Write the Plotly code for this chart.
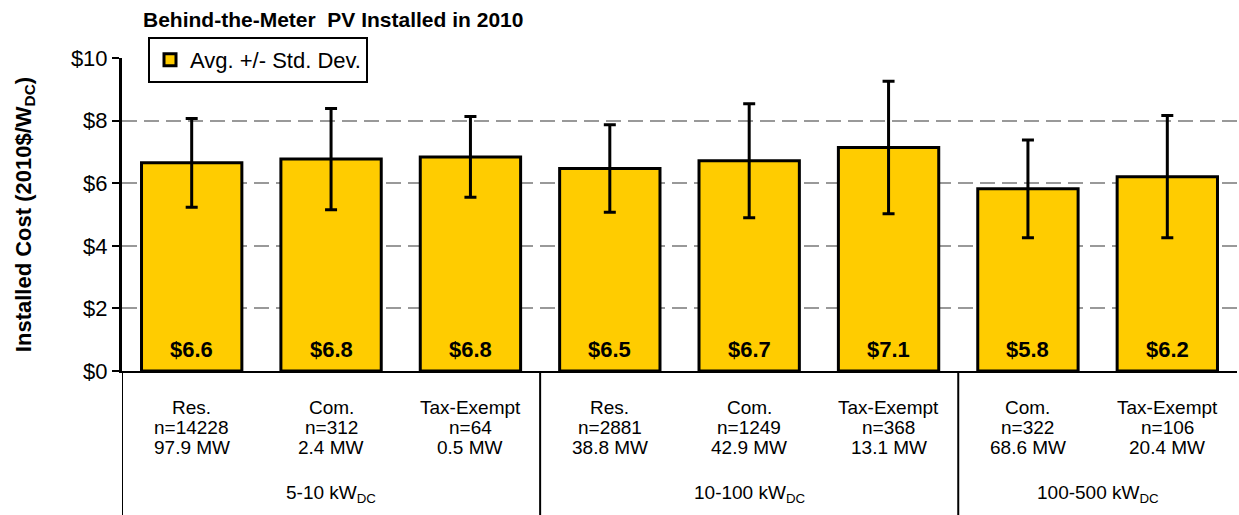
import plotly.graph_objects as go

segments = ["Res.", "Com.", "Tax-Exempt", "Res.", "Com.", "Tax-Exempt", "Com.", "Tax-Exempt"]
counts = ["n=14228", "n=312", "n=64", "n=2881", "n=1249", "n=368", "n=322", "n=106"]
capacity = ["97.9 MW", "2.4 MW", "0.5 MW", "38.8 MW", "42.9 MW", "13.1 MW", "68.6 MW", "20.4 MW"]
avg_cost = [6.65, 6.77, 6.84, 6.47, 6.72, 7.14, 5.82, 6.21]
std_dev = [1.42, 1.62, 1.29, 1.40, 1.82, 2.12, 1.56, 1.95]
value_labels = ["$6.6", "$6.8", "$6.8", "$6.5", "$6.7", "$7.1", "$5.8", "$6.2"]
groups = ["5-10 kW<sub>DC</sub>", "10-100 kW<sub>DC</sub>", "100-500 kW<sub>DC</sub>"]
group_members = [[0, 1, 2], [3, 4, 5], [6, 7]]
y_ticks = [0, 2, 4, 6, 8, 10]
y_ticklabels = ["$0", "$2", "$4", "$6", "$8", "$10"]

FONT = "Liberation Sans, Arial, sans-serif"
x_idx = list(range(len(segments)))
PLOT_H = 515 - 58 - 144  # plot area height in px


def ypx(px_below_axis):
    """paper y for a distance (px) below the x axis line"""
    return -px_below_axis / PLOT_H


fig = go.Figure()
fig.add_trace(go.Bar(
    x=x_idx, y=avg_cost, width=0.72,
    name="Avg. +/- Std. Dev.",
    marker=dict(color="#FFCC00", line=dict(color="black", width=3)),
    error_y=dict(type="data", array=std_dev, visible=True, color="black", thickness=3, width=6),
    showlegend=True,
))

# value labels at the bar bases
for i, lab in enumerate(value_labels):
    fig.add_annotation(x=i, y=0, text=f"<b>{lab}</b>", showarrow=False, yanchor="bottom", yshift=7,
                       font=dict(family=FONT, size=22, color="black"))

# category labels (three rows)
for rows, dy in ((segments, 36), (counts, 56), (capacity, 76)):
    for i, t in enumerate(rows):
        fig.add_annotation(x=i, xref="x", y=ypx(dy), yref="paper", text=t, showarrow=False,
                           yanchor="middle", font=dict(family=FONT, size=19, color="black"))

# group labels
for g, members in zip(groups, group_members):
    fig.add_annotation(x=sum(members) / len(members), xref="x", y=ypx(123), yref="paper",
                       text=g, showarrow=False, yanchor="middle",
                       font=dict(family=FONT, size=19, color="black"))

# group separators
for members in group_members:
    s = members[0] - 0.5
    fig.add_shape(type="line", x0=s, x1=s, xref="x", y0=ypx(150), y1=0, yref="paper",
                  line=dict(color="black", width=2))

fig.update_layout(
    width=1239, height=515,
    margin=dict(l=122, r=2, t=58, b=144),
    plot_bgcolor="white", paper_bgcolor="white",
    font=dict(family=FONT, color="black"),
    title=dict(text="<b>Behind-the-Meter\u00a0 PV Installed in 2010</b>", x=143 / 1239, xanchor="left",
               y=1 - 20 / 515, yanchor="middle", font=dict(family=FONT, size=21, color="black")),
    legend=dict(x=(148 - 122) / 1115, y=(371 - 37) / 313, xanchor="left", yanchor="top",
                bgcolor="white", bordercolor="black", borderwidth=2,
                font=dict(family=FONT, size=22, color="black"), itemwidth=30),
)
fig.update_xaxes(
    tickmode="array", tickvals=x_idx, showticklabels=False, range=[-0.5, 7.5],
    showline=True, linecolor="black", linewidth=2, ticks="", showgrid=False, automargin=False,
)
fig.update_yaxes(
    range=[0, 10], tickmode="array", tickvals=y_ticks, ticktext=y_ticklabels,
    showline=True, linecolor="black", linewidth=3, ticks="outside", ticklen=7, tickwidth=2,
    tickcolor="black", automargin=False,
    showgrid=True, gridcolor="#999999", gridwidth=2, griddash="15px,7px",
    tickfont=dict(family=FONT, size=22, color="black"),
    title=dict(text="<b>Installed Cost (2010$/W<sub>DC</sub>)</b>", standoff=34,
               font=dict(family=FONT, size=22, color="black")),
    zeroline=False,
)

fig.write_html("out.html", config={"displayModeBar": False},
               post_script="document.body.style.margin='0';document.body.style.overflow='hidden';")
